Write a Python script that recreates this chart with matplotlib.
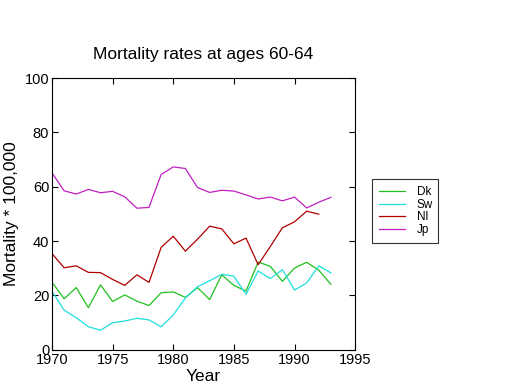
import matplotlib
matplotlib.use('Agg')
import matplotlib.pyplot as plt

plt.rcParams['font.family'] = ['Liberation Sans', 'DejaVu Sans']

# datos
years = list(range(1970, 1994))
dk = [24.9, 18.8, 22.9, 15.5, 23.9, 17.8, 20.2, 17.9, 16.3, 21.0, 21.3, 19.3,
      22.9, 18.5, 27.6, 23.7, 21.6, 32.3, 30.7, 25.2, 30.1, 32.2, 29.3, 24.1]
sw = [21.6, 14.6, 11.8, 8.5, 7.2, 10.0, 10.6, 11.6, 11.0, 8.5, 12.8, 19.1,
      23.2, 25.4, 27.8, 27.1, 20.4, 29.0, 26.2, 29.5, 22.0, 24.6, 30.9, 28.3]
nl = [35.4, 30.2, 30.9, 28.5, 28.4, 25.9, 23.7, 27.6, 24.8, 37.7, 41.8, 36.3,
      40.7, 45.5, 44.5, 39.0, 41.1, 31.3, 38.0, 44.9, 47.1, 51.0, 49.9]
jp = [65.1, 58.5, 57.3, 59.0, 57.8, 58.3, 56.3, 52.1, 52.4, 64.5, 67.3, 66.7,
      59.7, 57.9, 58.7, 58.4, 57.0, 55.5, 56.2, 54.8, 56.2, 52.2, 54.3, 56.1]

fig = plt.figure(figsize=(5.2, 3.9), dpi=100)
ax = fig.add_axes([0.1, 0.103, 0.583, 0.697])

l1, = ax.plot(years, dk, color='#20c020', lw=0.9)
l2, = ax.plot(years, sw, color='#20dede', lw=0.9)
l3, = ax.plot(years[:len(nl)], nl, color='#b00000', lw=0.9)
l4, = ax.plot(years, jp, color='#c020c0', lw=0.9)

ax.set_xlim(1970, 1995)
ax.set_ylim(0, 100)
ax.set_xticks(range(1970, 1996, 5))
ax.set_yticks(range(0, 101, 20))
ax.tick_params(direction='in', top=True, right=True, labelsize=10.5, length=4, pad=2)
for s in ax.spines.values():
    s.set_linewidth(0.8)

ax.set_title('Mortality rates at ages 60-64', fontsize=12.5, pad=14)
ax.set_xlabel('Year', fontsize=12.5, labelpad=2)
ax.set_ylabel('Mortality * 100,000', fontsize=12.5, labelpad=4)

leg = fig.legend([l1, l2, l3, l4], ['Dk', 'Sw', 'Nl', 'Jp'],
                 loc='lower left', bbox_to_anchor=(0.715, 0.377, 0.127, 0.17),
                 mode='expand', fontsize=8.5, frameon=True, fancybox=False,
                 handlelength=2.2, borderpad=0.6, labelspacing=0.05,
                 handletextpad=1.0, borderaxespad=0)
leg.get_frame().set_edgecolor('black')
leg.get_frame().set_linewidth(0.8)

fig.savefig('out.png', dpi=100)
